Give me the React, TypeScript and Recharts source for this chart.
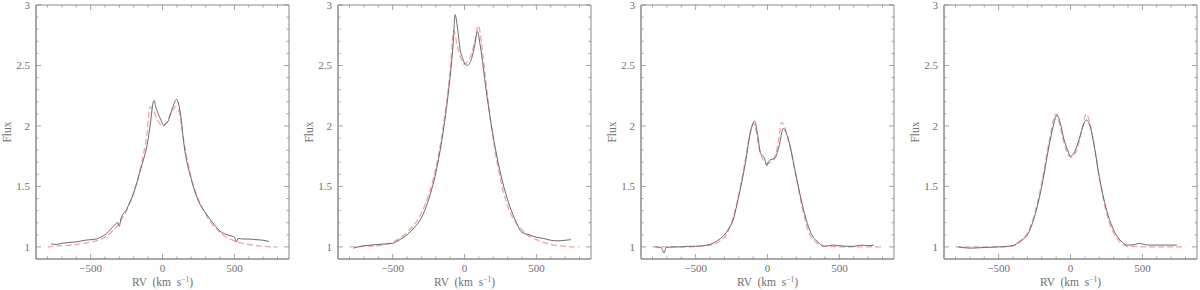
import React from 'react';
import { LineChart, Line, XAxis, YAxis, ReferenceArea, Label } from 'recharts';

// Plot frame geometry (per panel)
const PLOT_W = 253;
const PLOT_H = 254;
const LEFT_GUTTER = 36;
const PANEL_LEFTS = [0, 302, 605, 908];

const xTicks = [-800, -700, -600, -500, -400, -300, -200, -100, 0, 100, 200, 300, 400, 500, 600, 700, 800];
const xMajor = [-500, 0, 500];
const yTicks = [1.0, 1.1, 1.2, 1.3, 1.4, 1.5, 1.6, 1.7, 1.8, 1.9, 2.0, 2.1, 2.2, 2.3, 2.4, 2.5, 2.6, 2.7, 2.8, 2.9, 3.0];
const yMajor = [1, 1.5, 2, 2.5, 3];

// Panel 1
const obs1Rv = [-775, -740, -700, -660, -620, -580, -540, -500, -460, -440, -400, -350, -310, -300, -290, -250, -200, -150, -100, -80, -68, -58, -45, -30, -15, 0, 10, 20, 35, 50, 70, 85, 97, 108, 125, 150, 200, 250, 300, 350, 400, 450, 500, 515, 525, 560, 600, 650, 700, 740];
const obs1Flux = [1.025, 1.02, 1.03, 1.035, 1.04, 1.045, 1.055, 1.06, 1.065, 1.075, 1.1, 1.16, 1.2, 1.17, 1.23, 1.31, 1.45, 1.65, 1.89, 2.06, 2.18, 2.21, 2.15, 2.1, 2.06, 2.02, 2.0, 2.02, 2.03, 2.08, 2.15, 2.2, 2.22, 2.2, 2.1, 1.84, 1.56, 1.38, 1.28, 1.2, 1.13, 1.1, 1.08, 1.04, 1.07, 1.065, 1.065, 1.06, 1.055, 1.045];
const mod1Rv = [-800, -700, -600, -500, -400, -300, -250, -200, -150, -110, -85, -60, -30, 0, 30, 60, 90, 110, 150, 200, 250, 300, 400, 500, 600, 700, 800];
const mod1Flux = [1.0, 1.01, 1.02, 1.04, 1.08, 1.2, 1.3, 1.45, 1.67, 1.92, 2.16, 2.12, 2.04, 2.0, 2.03, 2.1, 2.16, 2.14, 1.86, 1.57, 1.39, 1.27, 1.12, 1.05, 1.02, 1.005, 1.0];

// Panel 2
const obs2Rv = [-772, -700, -650, -600, -550, -500, -450, -400, -350, -300, -250, -200, -150, -100, -80, -65, -50, -30, -10, 0, 20, 50, 70, 90, 110, 150, 200, 250, 300, 350, 400, 450, 500, 550, 600, 650, 700, 740];
const obs2Flux = [0.99, 1.01, 1.015, 1.02, 1.025, 1.03, 1.06, 1.1, 1.16, 1.24, 1.39, 1.61, 1.94, 2.41, 2.66, 2.92, 2.82, 2.63, 2.55, 2.52, 2.5, 2.56, 2.66, 2.78, 2.66, 2.3, 1.91, 1.61, 1.39, 1.23, 1.12, 1.1, 1.08, 1.07, 1.055, 1.05, 1.055, 1.06];
const mod2Rv = [-800, -700, -600, -500, -400, -300, -250, -200, -150, -100, -75, -50, -25, 0, 25, 50, 75, 95, 130, 150, 200, 250, 300, 400, 500, 600, 700, 800];
const mod2Flux = [1.0, 1.005, 1.01, 1.04, 1.12, 1.28, 1.43, 1.65, 1.98, 2.45, 2.79, 2.66, 2.56, 2.51, 2.54, 2.6, 2.72, 2.83, 2.57, 2.35, 1.89, 1.56, 1.34, 1.14, 1.06, 1.02, 1.005, 1.0];

// Panel 3
const obs3Rv = [-780, -740, -720, -705, -650, -600, -550, -500, -450, -400, -350, -300, -270, -255, -250, -200, -150, -120, -90, -70, -50, -20, -5, 5, 20, 50, 80, 110, 140, 200, 250, 300, 350, 400, 450, 500, 550, 600, 650, 700, 740];
const obs3Flux = [1.0, 0.995, 0.95, 0.995, 1.0, 1.0, 1.005, 1.005, 1.01, 1.02, 1.05, 1.1, 1.15, 1.18, 1.19, 1.42, 1.72, 1.94, 2.04, 1.94, 1.78, 1.73, 1.67, 1.7, 1.72, 1.73, 1.83, 1.98, 1.91, 1.58, 1.31, 1.12, 1.04, 1.005, 1.015, 1.01, 1.005, 1.005, 1.015, 1.01, 1.015];
const mod3Rv = [-800, -600, -400, -300, -250, -200, -150, -120, -95, -60, -30, 0, 40, 70, 100, 150, 200, 250, 300, 400, 600, 800];
const mod3Flux = [1.0, 1.0, 1.015, 1.08, 1.2, 1.43, 1.75, 1.95, 2.02, 1.83, 1.72, 1.69, 1.72, 1.83, 2.03, 1.86, 1.58, 1.28, 1.09, 1.005, 1.0, 1.0];

// Panel 4
const obs4Rv = [-780, -700, -600, -500, -400, -350, -300, -250, -200, -150, -120, -95, -70, -50, -20, 0, 30, 60, 90, 110, 140, 170, 200, 250, 300, 350, 400, 450, 480, 510, 550, 650, 740];
const obs4Flux = [1.0, 0.99, 0.995, 1.0, 1.01, 1.05, 1.1, 1.25, 1.5, 1.83, 2.0, 2.09, 2.02, 1.91, 1.8, 1.75, 1.79, 1.89, 2.01, 2.05, 1.98, 1.8, 1.58, 1.31, 1.14, 1.05, 1.015, 1.02, 1.03, 1.02, 1.015, 1.015, 1.015];
const mod4Rv = [-800, -600, -500, -400, -300, -250, -200, -150, -100, -70, -30, 0, 40, 80, 110, 150, 200, 250, 300, 400, 600, 800];
const mod4Flux = [1.0, 1.0, 1.0, 1.01, 1.115, 1.27, 1.53, 1.86, 2.1, 1.98, 1.8, 1.74, 1.79, 1.97, 2.1, 1.94, 1.58, 1.28, 1.115, 1.005, 1.0, 1.0];

const toPoints = (rv: number[], flux: number[]) => rv.map((v, i) => ({ rv: v, flux: flux[i] }));

const panels = [
  { obs: toPoints(obs1Rv, obs1Flux), model: toPoints(mod1Rv, mod1Flux) },
  { obs: toPoints(obs2Rv, obs2Flux), model: toPoints(mod2Rv, mod2Flux) },
  { obs: toPoints(obs3Rv, obs3Flux), model: toPoints(mod3Rv, mod3Flux) },
  { obs: toPoints(obs4Rv, obs4Flux), model: toPoints(mod4Rv, mod4Flux) },
];

const FONT = 'Liberation Serif, DejaVu Serif, serif';
const TEXT_COLOR = '#707070';
const FRAME_COLOR = '#8c8c8c';

const fmtRv = (v: number) => (v < 0 ? '\u2212' + Math.abs(v) : String(v));

// bottom + mirrored top ticks
const XTick = (props: any) => {
  const { x, y, payload } = props;
  const major = xMajor.includes(payload.value);
  const len = major ? 5 : 2.5;
  return (
    <g>
      <line x1={x} y1={y} x2={x} y2={y - len} stroke={FRAME_COLOR} strokeWidth={0.8} />
      <line x1={x} y1={y - PLOT_H} x2={x} y2={y - PLOT_H + len} stroke={FRAME_COLOR} strokeWidth={0.8} />
      {major && (
        <text x={x} y={y + 13} textAnchor="middle" fontSize={11} fontFamily={FONT} fill={TEXT_COLOR}>
          {fmtRv(payload.value)}
        </text>
      )}
    </g>
  );
};

// left + mirrored right ticks
const YTick = (props: any) => {
  const { x, y, payload } = props;
  const v = Math.round(payload.value * 10) / 10;
  const major = yMajor.includes(v);
  const len = major ? 5 : 2.5;
  return (
    <g>
      <line x1={x} y1={y} x2={x + len} y2={y} stroke={FRAME_COLOR} strokeWidth={0.8} />
      <line x1={x + PLOT_W} y1={y} x2={x + PLOT_W - len} y2={y} stroke={FRAME_COLOR} strokeWidth={0.8} />
      {major && (
        <text x={x - 6} y={y} dy="0.35em" textAnchor="end" fontSize={11} fontFamily={FONT} fill={TEXT_COLOR}>
          {String(v)}
        </text>
      )}
    </g>
  );
};

const XTitle = (props: any) => {
  const { x, y, width, height } = props.viewBox;
  return (
    <text
      x={x + width / 2}
      y={y + height - 4}
      textAnchor="middle"
      fontSize={11.5}
      fontFamily={FONT}
      fill={TEXT_COLOR}
      style={{ whiteSpace: 'pre' }}
    >
      {'RV  (km  s'}
      <tspan dy={-4} fontSize={7.5}>{'\u22121'}</tspan>
      <tspan dy={4}>)</tspan>
    </text>
  );
};

const YTitle = (props: any) => {
  const { x, y, width, height } = props.viewBox;
  const cx = x + width - 29;
  const cy = y + height / 2;
  return (
    <text x={cx} y={cy} transform={`rotate(-90 ${cx} ${cy})`} dy="0.35em" textAnchor="middle" fontSize={11.5} fontFamily={FONT} fill={TEXT_COLOR}>
      Flux
    </text>
  );
};

const SpectrumPanel = ({ obs, model }: { obs: any[]; model: any[] }) => (
  <LineChart width={LEFT_GUTTER + PLOT_W + 11} height={290} margin={{ top: 5, right: 11, left: 0, bottom: 0 }}>
    <XAxis
      type="number"
      dataKey="rv"
      domain={[-880, 880]}
      ticks={xTicks}
      interval={0}
      allowDataOverflow
      height={31}
      tickSize={0}
      tickMargin={0}
      tick={<XTick />}
      axisLine={{ stroke: FRAME_COLOR }}
    >
      <Label content={<XTitle />} />
    </XAxis>
    <YAxis
      type="number"
      dataKey="flux"
      domain={[0.9, 3]}
      ticks={yTicks}
      interval={0}
      allowDataOverflow
      width={LEFT_GUTTER}
      tickSize={0}
      tickMargin={0}
      tick={<YTick />}
      axisLine={{ stroke: FRAME_COLOR }}
    >
      <Label content={<YTitle />} />
    </YAxis>
    <ReferenceArea x1={-880} x2={880} y1={0.9} y2={3} fill="none" stroke={FRAME_COLOR} strokeWidth={1} />
    <Line
      data={model}
      dataKey="flux"
      type="monotone"
      stroke="#f4a4a4"
      strokeWidth={1.3}
      strokeDasharray="6 3"
      dot={false}
      isAnimationActive={false}
    />
    <Line
      data={obs}
      dataKey="flux"
      type="monotone"
      stroke="#6a6a6a"
      strokeWidth={1}
      dot={false}
      isAnimationActive={false}
    />
  </LineChart>
);

export default function App() {
  return (
    <div style={{ position: 'absolute', left: 0, top: 0, width: 1200, height: 290, background: '#fff' }}>
      {panels.map((p, i) => (
        <div key={i} style={{ position: 'absolute', left: PANEL_LEFTS[i], top: 0 }}>
          <SpectrumPanel obs={p.obs} model={p.model} />
        </div>
      ))}
    </div>
  );
}
